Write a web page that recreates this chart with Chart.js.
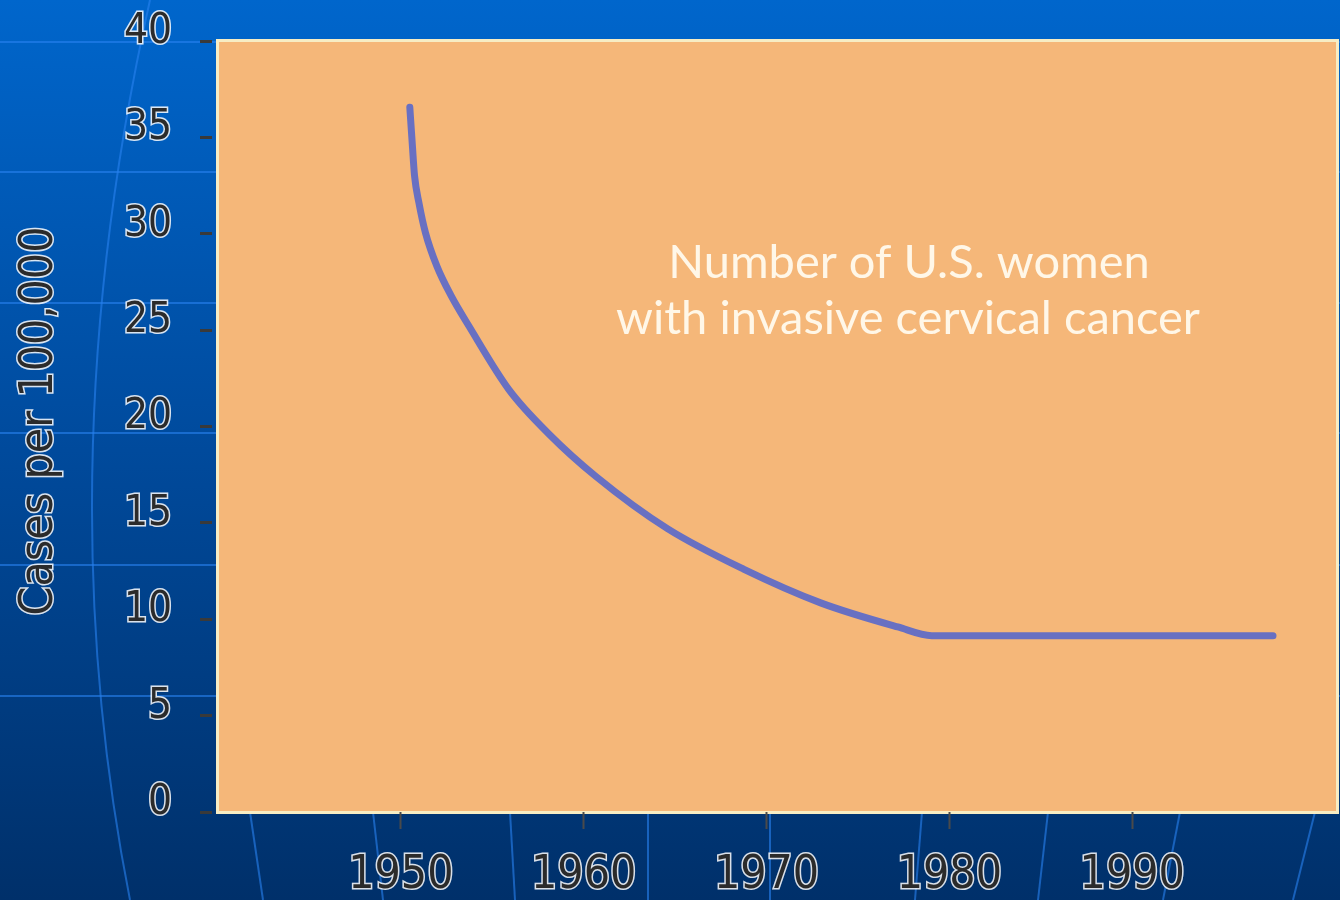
<!DOCTYPE html>
<html>
<head>
<meta charset="utf-8">
<title>Cervical cancer cases</title>
<script src="https://cdn.jsdelivr.net/npm/chart.js@4/dist/chart.umd.min.js"></script>
<style>
  html, body { margin: 0; padding: 0; background: #00306a; }
  #wrap { width: 1340px; height: 900px; position: relative; }
</style>
</head>
<body>
<div id="wrap"><canvas id="cancerChart"></canvas></div>
<script>
// values
var years  = [1950.49, 1950.62, 1950.75, 1950.99, 1951.35, 1951.97, 1952.74, 1953.73, 1955.92, 1958.11, 1960.68, 1964.58, 1968.74, 1972.96, 1977.18, 1979.04, 1997.7];
var cases  = [36.56, 34.73, 33.0, 31.6, 30.04, 28.32, 26.8, 25.2, 21.9, 19.6, 17.4, 14.7, 12.6, 10.85, 9.6, 9.15, 9.15];
var xTicks = [1950, 1960, 1970, 1980, 1990];
var yTicks = [0, 5, 10, 15, 20, 25, 30, 35, 40];
var noteLines = ['Number of U.S. women', 'with invasive cervical cancer'];
var yTitle = 'Cases per 100,000';

var narrow = "'DejaVu Sans Condensed', 'Liberation Sans Narrow', sans-serif";

var backdrop = {
    id: 'backdrop',
    beforeDraw: function (chart) {
        var ctx = chart.ctx, a = chart.chartArea;
        var w = chart.width, h = chart.height;
        ctx.save();
        var g = ctx.createLinearGradient(0, 0, 0, h);
        g.addColorStop(0, '#0066cc');
        g.addColorStop(0.5, '#004a9c');
        g.addColorStop(1, '#00306a');
        ctx.fillStyle = g;
        ctx.fillRect(0, 0, w, h);

        // faint globe lines
        ctx.strokeStyle = 'rgba(40,130,240,0.6)';
        ctx.lineWidth = 2;
        [42, 172, 303, 433, 565, 696].forEach(function (y) {
            ctx.beginPath(); ctx.moveTo(0, y); ctx.lineTo(w, y); ctx.stroke();
        });
        ctx.beginPath(); ctx.moveTo(150, 0); ctx.quadraticCurveTo(45, 470, 130, 900); ctx.stroke();
        [[250, 263], [373, 383], [510, 515], [648, 648], [770, 770], [922, 915], [1048, 1038], [1180, 1163], [1315, 1293]].forEach(function (p) {
            ctx.beginPath(); ctx.moveTo(p[0], a.bottom); ctx.lineTo(p[1], h); ctx.stroke();
        });

        // plot panel
        ctx.fillStyle = '#f7edc4';
        ctx.fillRect(a.left - 2, a.top - 2, a.right - a.left + 4, a.bottom - a.top + 4);
        ctx.fillStyle = '#f5b779';
        ctx.fillRect(a.left + 1, a.top + 1, a.right - a.left - 2, a.bottom - a.top - 2);
        ctx.restore();
    },
    afterDraw: function (chart) {
        var ctx = chart.ctx;
        ctx.save();
        // axis title
        ctx.translate(40, 421);
        ctx.rotate(-Math.PI / 2);
        ctx.font = '46px ' + narrow;
        ctx.textAlign = 'center';
        ctx.textBaseline = 'middle';
        ctx.lineWidth = 3;
        ctx.strokeStyle = 'rgba(255,255,255,0.85)';
        ctx.strokeText(yTitle, 0, 0);
        ctx.fillStyle = '#2b2b2b';
        ctx.fillText(yTitle, 0, 0);
        ctx.restore();

        // note inside the panel
        ctx.save();
        ctx.font = '47px Lato, sans-serif';
        ctx.textAlign = 'center';
        ctx.textBaseline = 'alphabetic';
        ctx.fillStyle = '#fff7e8';
        ctx.fillText(noteLines[0], 909, 278);
        ctx.fillText(noteLines[1], 908, 334);
        ctx.restore();
    }
};

var points = years.map(function (yr, i) { return { x: yr, y: cases[i] }; });

new Chart(document.getElementById('cancerChart'), {
    type: 'line',
    data: {
        datasets: [{
            data: points,
            borderColor: '#6870c2',
            borderWidth: 7,
            borderCapStyle: 'round',
            borderJoinStyle: 'round',
            cubicInterpolationMode: 'monotone',
            pointRadius: 0,
            fill: false
        }]
    },
    options: {
        responsive: true,
        maintainAspectRatio: false,
        animation: false,
        layout: { padding: { top: 41, right: 3, left: 0, bottom: 0 } },
        plugins: {
            legend: { display: false },
            tooltip: { enabled: false }
        },
        scales: {
            x: {
                type: 'linear',
                min: 1940,
                max: 2001.2,
                afterFit: function (s) {
                    s.height = 88;
                    s.paddingLeft = 0; s.paddingRight = 0;
                },
                afterBuildTicks: function (s) {
                    s.ticks = xTicks.map(function (v) { return { value: v }; });
                },
                border: { display: false },
                grid: {
                    drawOnChartArea: false,
                    drawTicks: true,
                    tickLength: 17,
                    tickWidth: 2,
                    tickColor: '#4a4a4a'
                },
                ticks: {
                    autoSkip: false,
                    maxRotation: 0,
                    padding: 19,
                    color: '#2b2b2b',
                    textStrokeColor: 'rgba(255,255,255,0.85)',
                    textStrokeWidth: 3,
                    font: { family: narrow, size: 46 },
                    callback: function (v) { return String(v); }
                }
            },
            y: {
                min: 0,
                max: 40,
                afterFit: function (s) {
                    s.width = 218;
                    s.paddingTop = 0; s.paddingBottom = 0;
                },
                afterBuildTicks: function (s) {
                    s.ticks = yTicks.map(function (v) { return { value: v }; });
                },
                border: { display: false },
                grid: {
                    drawOnChartArea: false,
                    drawTicks: true,
                    tickLength: 18,
                    tickWidth: 3,
                    tickColor: '#3a3a3a',
                    tickBorderDash: [12, 100]
                },
                ticks: {
                    padding: 28,
                    labelOffset: -9,
                    color: '#2b2b2b',
                    textStrokeColor: 'rgba(255,255,255,0.85)',
                    textStrokeWidth: 3,
                    font: { family: narrow, size: 42 }
                }
            }
        }
    },
    plugins: [backdrop]
});
</script>
</body>
</html>
